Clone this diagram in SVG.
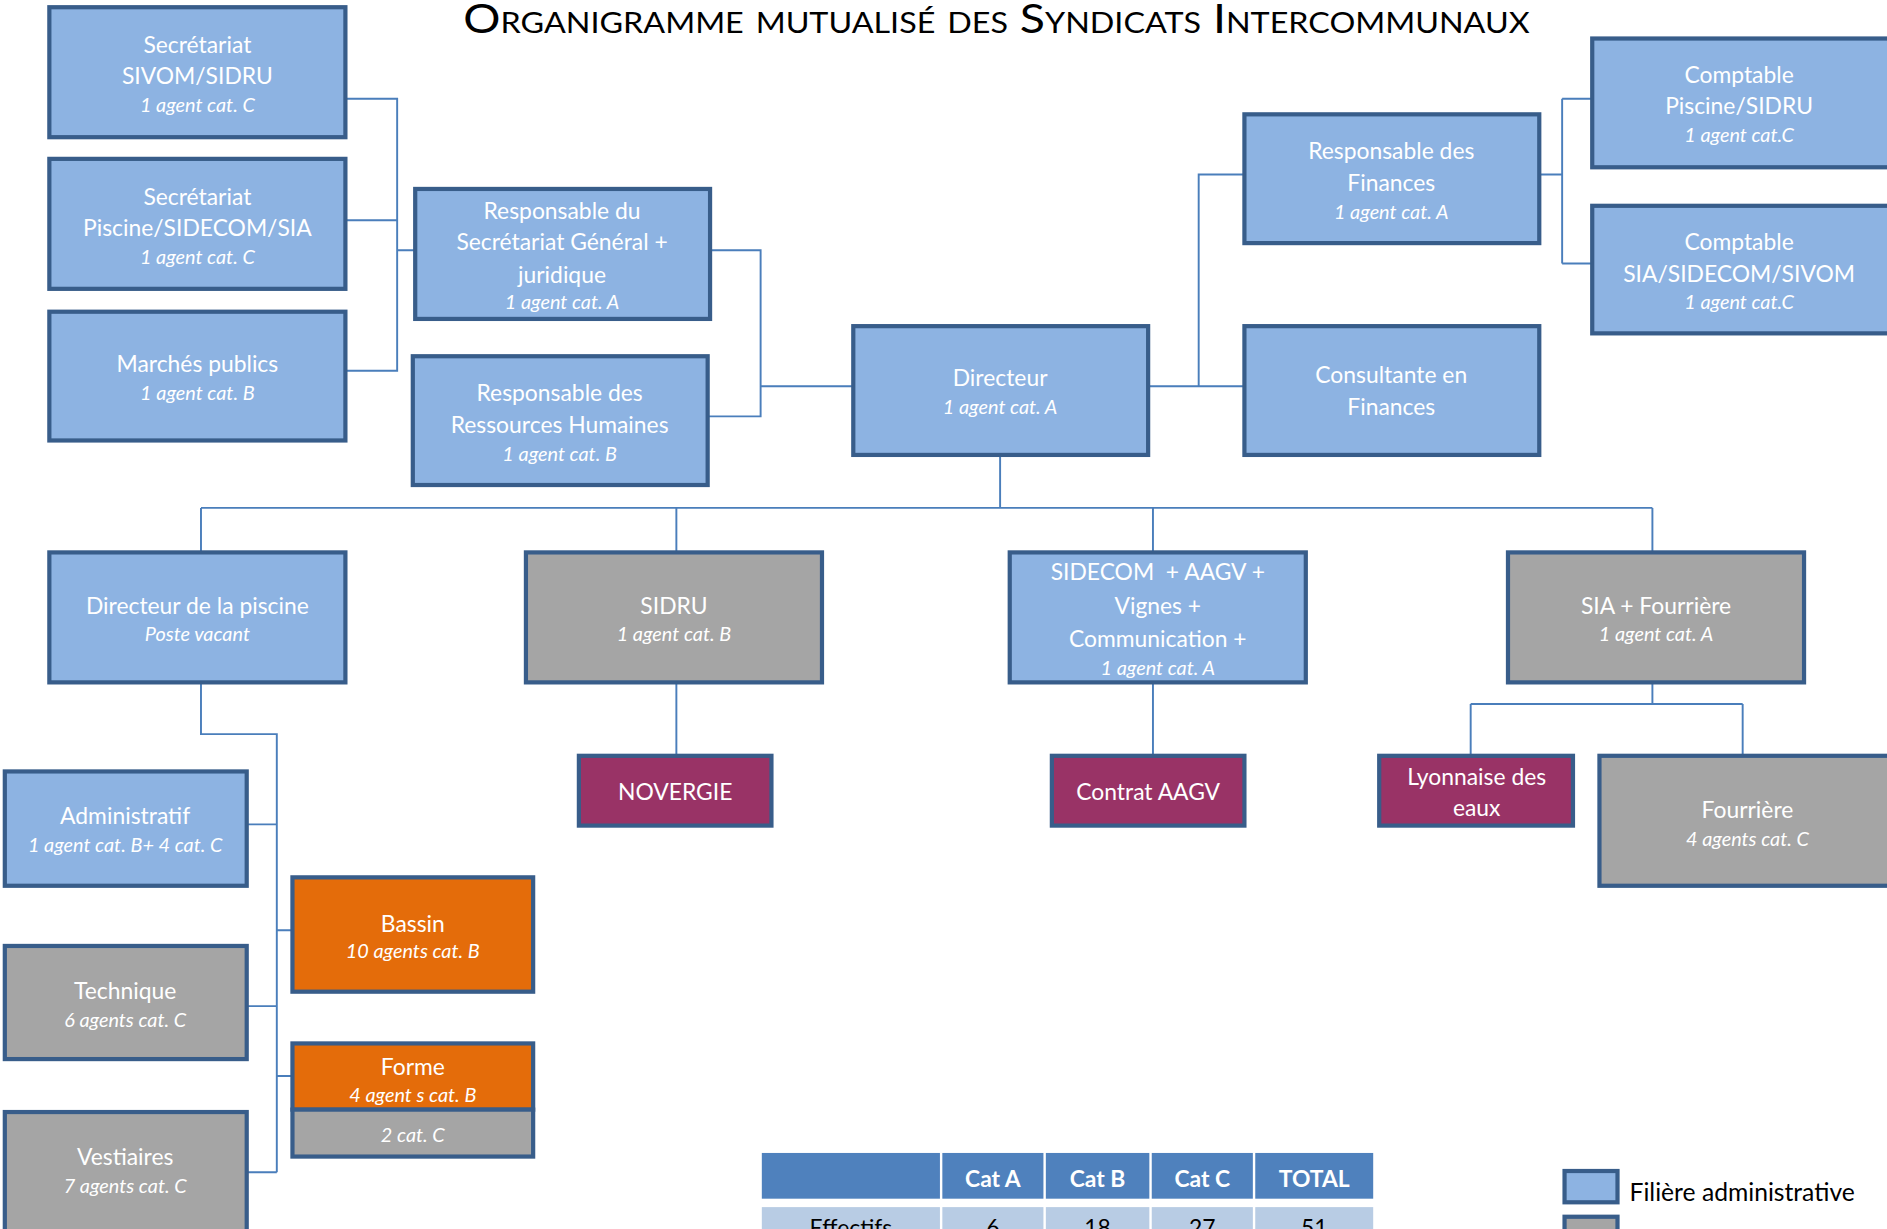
<svg xmlns="http://www.w3.org/2000/svg" width="1887" height="1229" viewBox="0 0 1887 1229">
<style>
.b{fill:#8DB3E2;stroke:#385D8A;stroke-width:3.5}
.g{fill:#A5A5A5;stroke:#385D8A;stroke-width:3.5}
.o{fill:#E46C0A;stroke:#385D8A;stroke-width:3.5}
.p{fill:#993366;stroke:#385D8A;stroke-width:3.5}
text{font-family:Lato,"Open Sans","Liberation Sans",sans-serif;fill:#fff;text-anchor:middle}
.t{font-size:19px}
.i{font-size:16.5px;font-style:italic}
.c{fill:none;stroke:#4A7EBB;stroke-width:1.6}
.th{font-size:19px;font-weight:bold}
.td{font-size:19px;fill:#000}
</style>
<rect width="1887" height="1229" fill="#fff"/>
<g transform="scale(1.2035)">
<text x="828" y="27" style="font-size:33.5px;fill:#000;font-variant:small-caps" textLength="886" lengthAdjust="spacingAndGlyphs">Organigramme mutualisé des Syndicats Intercommunaux</text>
<g id="connectors">
<path class="c" d="M288,82H330V308H288M288,183H330M330,208H344"/>
<path class="c" d="M591,208H632V346H589M632,321H708"/>
<path class="c" d="M955,321H1033M996,321V145H1033"/>
<path class="c" d="M1280,145H1298M1298,82V219M1298,82H1322M1298,219H1322"/>
<path class="c" d="M831,379V422M167,422H1373M167,422V458M562,422V458M958,422V458M1373,422V458"/>
<path class="c" d="M167,568V610H230V974M206,685H230M230,773H242M206,836H230M230,894H242M206,974H230"/>
<path class="c" d="M562,568V627M958,568V627"/>
<path class="c" d="M1373,568V585M1222,585H1448M1222,585V627M1448,585V627"/>
</g>
<g id="n1"><rect class="b" x="41" y="6" width="246" height="108"/><text class="t" x="164" y="44">Secrétariat</text><text class="t" x="164" y="70">SIVOM/SIDRU</text><text class="i" x="164" y="93">1 agent cat. C</text></g>
<g id="n2"><rect class="b" x="41" y="132" width="246" height="108"/><text class="t" x="164" y="170">Secrétariat</text><text class="t" x="164" y="196">Piscine/SIDECOM/SIA</text><text class="i" x="164" y="219">1 agent cat. C</text></g>
<g id="n3"><rect class="b" x="41" y="259" width="246" height="107"/><text class="t" x="164" y="309">Marchés publics</text><text class="i" x="164" y="332">1 agent cat. B</text></g>
<g id="n4"><rect class="b" x="345" y="157" width="245" height="108"/><text class="t" x="467" y="182">Responsable du</text><text class="t" x="467" y="208">Secrétariat Général +</text><text class="t" x="467" y="235">juridique</text><text class="i" x="467" y="257">1 agent cat. A</text></g>
<g id="n5"><rect class="b" x="343" y="296" width="245" height="107"/><text class="t" x="465" y="333">Responsable des</text><text class="t" x="465" y="360">Ressources Humaines</text><text class="i" x="465" y="383">1 agent cat. B</text></g>
<g id="n6"><rect class="b" x="709" y="271" width="245" height="107"/><text class="t" x="831" y="321">Directeur</text><text class="i" x="831" y="344">1 agent cat. A</text></g>
<g id="n7"><rect class="b" x="1034" y="95" width="245" height="107"/><text class="t" x="1156" y="132">Responsable des</text><text class="t" x="1156" y="159">Finances</text><text class="i" x="1156" y="182">1 agent cat. A</text></g>
<g id="n8"><rect class="b" x="1034" y="271" width="245" height="107"/><text class="t" x="1156" y="318">Consultante en</text><text class="t" x="1156" y="345">Finances</text></g>
<g id="n9"><rect class="b" x="1323" y="32" width="260" height="107"/><text class="t" x="1445" y="69">Comptable</text><text class="t" x="1445" y="95">Piscine/SIDRU</text><text class="i" x="1445" y="118">1 agent cat.C</text></g>
<g id="n10"><rect class="b" x="1323" y="171" width="260" height="106"/><text class="t" x="1445" y="208">Comptable</text><text class="t" x="1445" y="234">SIA/SIDECOM/SIVOM</text><text class="i" x="1445" y="257">1 agent cat.C</text></g>
<g id="n11"><rect class="b" x="41" y="459" width="246" height="108"/><text class="t" x="164" y="510">Directeur de la piscine</text><text class="i" x="164" y="533">Poste vacant</text></g>
<g id="n12"><rect class="g" x="437" y="459" width="246" height="108"/><text class="t" x="560" y="510">SIDRU</text><text class="i" x="560" y="533">1 agent cat. B</text></g>
<g id="n13"><rect class="b" x="839" y="459" width="246" height="108"/><text class="t" x="962" y="482" xml:space="preserve">SIDECOM  + AAGV +</text><text class="t" x="962" y="510">Vignes +</text><text class="t" x="962" y="538">Communication +</text><text class="i" x="962" y="561">1 agent cat. A</text></g>
<g id="n14"><rect class="g" x="1253" y="459" width="246" height="108"/><text class="t" x="1376" y="510">SIA + Fourrière</text><text class="i" x="1376" y="533">1 agent cat. A</text></g>
<g id="n15"><rect class="p" x="481" y="628" width="160" height="58"/><text class="t" x="561" y="665">NOVERGIE</text></g>
<g id="n16"><rect class="p" x="874" y="628" width="160" height="58"/><text class="t" x="954" y="665">Contrat AAGV</text></g>
<g id="n17"><rect class="p" x="1146" y="628" width="161" height="58"/><text class="t" x="1227" y="652">Lyonnaise des</text><text class="t" x="1227" y="678">eaux</text></g>
<g id="n18"><rect class="g" x="1329" y="628" width="260" height="108"/><text class="t" x="1452" y="680">Fourrière</text><text class="i" x="1452" y="703">4 agents cat. C</text></g>
<g id="n19"><rect class="b" x="4" y="641" width="201" height="95"/><text class="t" x="104" y="685">Administratif</text><text class="i" x="104" y="708">1 agent cat. B+ 4 cat. C</text></g>
<g id="n20"><rect class="o" x="243" y="729" width="200" height="95"/><text class="t" x="343" y="774">Bassin</text><text class="i" x="343" y="796">10 agents cat. B</text></g>
<g id="n21"><rect class="g" x="4" y="786" width="201" height="94"/><text class="t" x="104" y="830">Technique</text><text class="i" x="104" y="853">6 agents cat. C</text></g>
<g id="n22"><rect class="o" x="243" y="867" width="200" height="55"/><rect class="g" x="243" y="922" width="200" height="39"/><text class="t" x="343" y="893">Forme</text><text class="i" x="343" y="916">4 agent s cat. B</text><text class="i" x="343" y="949">2 cat. C</text></g>
<g id="n23"><rect class="g" x="4" y="924" width="201" height="110"/><text class="t" x="104" y="968">Vestiaires</text><text class="i" x="104" y="991">7 agents cat. C</text></g>
<g id="table">
<rect x="633" y="958" width="148" height="38" fill="#4F81BD"/>
<rect x="783" y="958" width="84" height="38" fill="#4F81BD"/>
<rect x="869" y="958" width="86" height="38" fill="#4F81BD"/>
<rect x="957" y="958" width="84" height="38" fill="#4F81BD"/>
<rect x="1043" y="958" width="98" height="38" fill="#4F81BD"/>
<text class="th" x="825" y="986">Cat A</text><text class="th" x="912" y="986">Cat B</text><text class="th" x="999" y="986">Cat C</text><text class="th" x="1092" y="986">TOTAL</text>
<rect x="633" y="1003" width="148" height="40" fill="#B8CCE4"/>
<rect x="783" y="1003" width="84" height="40" fill="#B8CCE4"/>
<rect x="869" y="1003" width="86" height="40" fill="#B8CCE4"/>
<rect x="957" y="1003" width="84" height="40" fill="#B8CCE4"/>
<rect x="1043" y="1003" width="98" height="40" fill="#B8CCE4"/>
<text class="td" x="707" y="1027">Effectifs</text><text class="td" x="825" y="1027">6</text><text class="td" x="912" y="1027">18</text><text class="td" x="999" y="1027">27</text><text class="td" x="1092" y="1027">51</text>
</g>
<g id="legend">
<rect class="b" x="1300" y="973" width="44" height="26"/>
<text x="1354" y="998" style="font-size:20.5px;fill:#000;text-anchor:start">Filière administrative</text>
<rect class="g" x="1300" y="1011" width="44" height="26"/>
</g>
</g>
</svg>
